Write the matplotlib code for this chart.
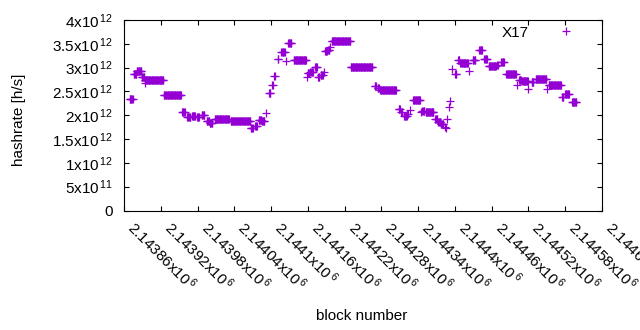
import numpy as np
import matplotlib
matplotlib.use('Agg')
import matplotlib.pyplot as plt
from matplotlib.ticker import FixedLocator

plt.rcParams['font.family'] = ['Liberation Sans', 'DejaVu Sans']
plt.rcParams['mathtext.default'] = 'regular'

# runs of blocks that share the same hashrate estimate (first block, last block, rate in 1e12 h/s)
run_first = [2143869, 2143876, 2143881, 2143889, 2143894, 2143895, 2143925, 2143955,
             2143963, 2143971, 2143979, 2143987, 2143995, 2144000, 2144008, 2144034,
             2144067, 2144074, 2144080, 2144085, 2144092, 2144097, 2144102, 2144105,
             2144111, 2144117, 2144124, 2144128, 2144137, 2144158, 2144160, 2144164,
             2144172, 2144177, 2144181, 2144186, 2144188, 2144193, 2144196, 2144199,
             2144230, 2144269, 2144274, 2144278, 2144308, 2144312, 2144317, 2144322,
             2144327, 2144332, 2144344, 2144347, 2144352, 2144368, 2144373, 2144377,
             2144383, 2144385, 2144387, 2144390, 2144392, 2144396, 2144400, 2144405,
             2144409, 2144423, 2144429, 2144440, 2144447, 2144449, 2144455, 2144469,
             2144476, 2144484, 2144502, 2144505, 2144510, 2144520, 2144525, 2144532,
             2144550, 2144553, 2144575, 2144580, 2144591]
run_last = [2143874, 2143880, 2143888, 2143893, 2143924, 2143895, 2143953, 2143959,
            2143968, 2143976, 2143982, 2143991, 2143999, 2144004, 2144031, 2144066,
            2144070, 2144077, 2144084, 2144089, 2144092, 2144099, 2144103, 2144106,
            2144112, 2144122, 2144124, 2144133, 2144157, 2144158, 2144162, 2144168,
            2144175, 2144179, 2144184, 2144186, 2144191, 2144195, 2144196, 2144229,
            2144265, 2144271, 2144276, 2144304, 2144310, 2144313, 2144321, 2144323,
            2144327, 2144343, 2144344, 2144350, 2144365, 2144371, 2144376, 2144381,
            2144383, 2144385, 2144387, 2144390, 2144392, 2144396, 2144402, 2144407,
            2144421, 2144423, 2144433, 2144444, 2144447, 2144452, 2144467, 2144470,
            2144480, 2144499, 2144502, 2144508, 2144519, 2144520, 2144528, 2144549,
            2144550, 2144573, 2144577, 2144586, 2144598]
run_rate = [2.35, 2.87, 2.92, 2.80, 2.735, 2.67, 2.42, 2.06,
            1.97, 1.985, 1.96, 2.00, 1.88, 1.83, 1.915, 1.875,
            1.73, 1.78, 1.90, 1.875, 2.04, 2.46, 2.64, 2.83,
            3.18, 3.32, 3.13, 3.51, 3.155, 2.81, 2.88, 2.91,
            3.01, 2.81, 2.85, 2.90, 3.34, 3.36, 3.43, 3.555,
            3.01, 2.615, 2.57, 2.525, 2.13, 2.075, 1.99, 2.03,
            2.11, 2.315, 2.07, 2.09, 2.06, 1.915, 1.865, 1.82,
            1.76, 1.73, 1.915, 2.17, 2.30, 2.965, 2.86, 3.15,
            3.09, 2.93, 3.15, 3.365, 3.18, 3.18, 3.035, 3.06,
            3.11, 2.86, 2.64, 2.74, 2.72, 2.545, 2.69, 2.755,
            2.56, 2.63, 2.38, 2.44, 2.27]

x_ticks = [2143860 + 60 * i for i in range(14)]
x_labels = ['2.14386x10$^{\\,6}$', '2.14392x10$^{\\,6}$', '2.14398x10$^{\\,6}$', '2.14404x10$^{\\,6}$',
            '2.1441x10$^{\\,6}$', '2.14416x10$^{\\,6}$', '2.14422x10$^{\\,6}$', '2.14428x10$^{\\,6}$',
            '2.14434x10$^{\\,6}$', '2.1444x10$^{\\,6}$', '2.14446x10$^{\\,6}$', '2.14452x10$^{\\,6}$',
            '2.14458x10$^{\\,6}$', '2.14464x10$^{\\,6}$']
y_ticks = [0, 0.5e12, 1e12, 1.5e12, 2e12, 2.5e12, 3e12, 3.5e12, 4e12]
y_labels = ['0', '5x10$^{\\,11}$', '1x10$^{\\,12}$', '1.5x10$^{\\,12}$', '2x10$^{\\,12}$',
            '2.5x10$^{\\,12}$', '3x10$^{\\,12}$', '3.5x10$^{\\,12}$', '4x10$^{\\,12}$']

# expand runs to one point per block
blocks = []
rates = []
for a, b, r in zip(run_first, run_last, run_rate):
    for blk in range(a, b + 1):
        blocks.append(blk)
        rates.append(r * 1e12)

fig = plt.figure(figsize=(6.4, 3.3), dpi=100)
ax = fig.add_axes([124 / 640, 1 - 210.5 / 330, 478 / 640, 190.5 / 330])

ax.plot(blocks, rates, linestyle='none', marker='+', color='#9400d3',
        markersize=5.2, markeredgewidth=0.9, label='X17')

ax.set_xlim(2143860, 2144640)
ax.set_ylim(0, 4e12)
ax.xaxis.set_major_locator(FixedLocator(x_ticks))
ax.set_xticklabels(x_labels, rotation=-45, ha='left', va='top', rotation_mode='default')
ax.yaxis.set_major_locator(FixedLocator(y_ticks))
ax.set_yticklabels(y_labels)
ax.tick_params(direction='in', top=True, right=True, length=3.5, width=0.8,
               labelsize=11)
ax.tick_params(axis='x', pad=5)
ax.tick_params(axis='y', pad=8)
for s in ax.spines.values():
    s.set_linewidth(0.8)

ax.set_xlabel('block number', fontsize=11)
ax.xaxis.set_label_coords(0.497, -0.515)
ax.set_ylabel('hashrate [h/s]', fontsize=11)
ax.yaxis.set_label_coords(-0.205, 0.475)

ax.legend(loc='center right', bbox_to_anchor=(0.956, 0.933), frameon=False,
          markerfirst=False, borderpad=0, borderaxespad=0, handlelength=2,
          handletextpad=1.4, fontsize=11)

fig.savefig('out.png', dpi=100)
